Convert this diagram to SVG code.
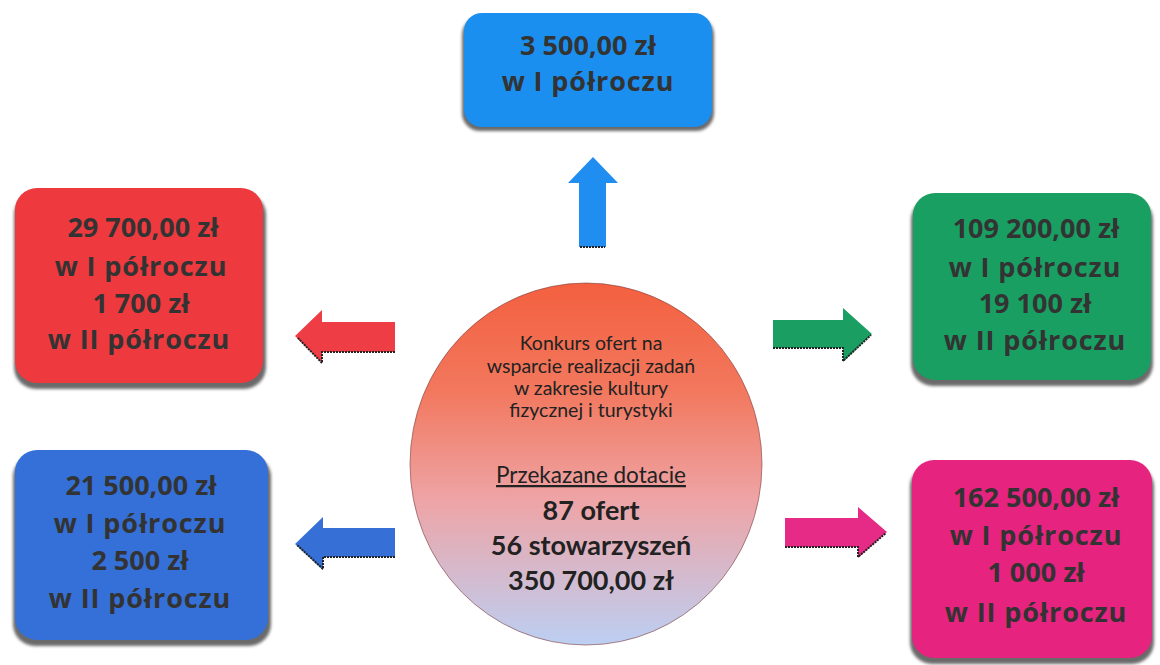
<svg xmlns="http://www.w3.org/2000/svg" width="1160" height="665" viewBox="0 0 1160 665">
<defs>
<linearGradient id="eg" x1="0" y1="0" x2="0" y2="1">
<stop offset="0" stop-color="#f3603f"/>
<stop offset="0.3" stop-color="#f2785e"/>
<stop offset="0.6" stop-color="#eea4a6"/>
<stop offset="1" stop-color="#bccff3"/>
</linearGradient>
<filter id="blur" x="-10%" y="-10%" width="120%" height="120%"><feGaussianBlur stdDeviation="1.5"/></filter>
<style>
.box-t{font-family:"Open Sans","Liberation Sans",sans-serif;font-weight:700;font-size:27px;fill:#333;text-anchor:middle}
.w{letter-spacing:0.9px}
.sh{fill:#6a6a6a;filter:url(#blur)}
.el-t{font-family:Lato,"Open Sans",sans-serif;font-size:19.5px;fill:#222;text-anchor:middle}
.el-b{font-family:Lato,"Open Sans",sans-serif;font-size:27px;font-weight:700;fill:#222;text-anchor:middle}
.edge{fill:none;stroke:#222;stroke-width:2;stroke-dasharray:2 1}
</style>
</defs>
<rect width="1160" height="665" fill="#ffffff"/>

<g id="connectors">
<g id="arrow-up">
<polygon points="579,247 579,183 568,183 593,157 618,183 606,183 606,247" fill="#1f8ef0"/>
<line class="edge" x1="580" y1="247" x2="605" y2="247"/>
</g>
<g id="arrow-red">
<polygon points="395,322 322,322 322,310 295,336 322,363 322,352 395,352" fill="#ee3d45"/>
<polyline class="edge" points="395,352 322,352 322,363 298,338"/>
</g>
<g id="arrow-green">
<polygon points="773,320 843,320 843,308 872,334 843,362 843,348 773,348" fill="#1a9e62"/>
<polyline class="edge" points="773,348 843,348 843,361 871,335"/>
</g>
<g id="arrow-blue">
<polygon points="395,528 323,528 323,517 295,544 323,570 323,557 395,557" fill="#3670d6"/>
<polyline class="edge" points="395,557 323,557 323,569 297,545"/>
</g>
<g id="arrow-pink">
<polygon points="785,518 858,518 858,507 887,532 858,558 858,547 785,547" fill="#e62b86"/>
<polyline class="edge" points="785,547 858,547 858,557 886,533"/>
</g>
</g>

<g id="node-top">
<rect class="sh" x="462" y="17" width="252" height="114" rx="18"/>
<rect x="464" y="13" width="248" height="114" rx="18" fill="#1b8ff0"/>
<text class="box-t" x="588" y="55">3 500,00 zł</text>
<text class="box-t w" x="588" y="91">w I półroczu</text>
</g>

<g id="node-red">
<rect class="sh" x="14" y="193" width="252" height="196" rx="22"/>
<rect x="15" y="188" width="248" height="195" rx="22" fill="#ee3a3e"/>
<text class="box-t" x="143" y="237">29 700,00 zł</text>
<text class="box-t w" x="141" y="276">w I półroczu</text>
<text class="box-t" x="141" y="313">1 700 zł</text>
<text class="box-t w" x="139" y="349">w II półroczu</text>
</g>

<g id="node-green">
<rect class="sh" x="911" y="198" width="242" height="188" rx="22"/>
<rect x="913" y="193" width="238" height="187" rx="22" fill="#1a9f63"/>
<text class="box-t" x="1036" y="238">109 200,00 zł</text>
<text class="box-t w" x="1035" y="277">w I półroczu</text>
<text class="box-t" x="1035" y="313">19 100 zł</text>
<text class="box-t w" x="1035" y="350">w II półroczu</text>
</g>

<g id="node-blue">
<rect class="sh" x="13" y="455" width="258" height="191" rx="22"/>
<rect x="15" y="450" width="253" height="190" rx="22" fill="#3470d8"/>
<text class="box-t" x="141" y="495">21 500,00 zł</text>
<text class="box-t w" x="140" y="533">w I półroczu</text>
<text class="box-t" x="140" y="570">2 500 zł</text>
<text class="box-t w" x="140" y="608">w II półroczu</text>
</g>

<g id="node-pink">
<rect class="sh" x="910" y="465" width="244" height="199" rx="22"/>
<rect x="912" y="460" width="240" height="198" rx="22" fill="#e6237f"/>
<text class="box-t" x="1036" y="507">162 500,00 zł</text>
<text class="box-t w" x="1036" y="545">w I półroczu</text>
<text class="box-t" x="1036" y="582">1 000 zł</text>
<text class="box-t w" x="1036" y="622">w II półroczu</text>
</g>

<g id="node-center">
<ellipse cx="586" cy="464" rx="176" ry="181" fill="url(#eg)" stroke="#7a3a3a" stroke-width="1" stroke-opacity="0.6"/>
<text class="el-t" x="591" y="350">Konkurs ofert na</text>
<text class="el-t" x="591" y="373">wsparcie realizacji zadań</text>
<text class="el-t" x="591" y="395">w zakresie kultury</text>
<text class="el-t" x="591" y="417">fizycznej i turystyki</text>
<text class="el-t" x="591" y="483" style="font-size:22.5px;text-decoration:underline">Przekazane dotacie</text>
<text class="el-b" x="591" y="520">87 ofert</text>
<text class="el-b" x="591" y="555">56 stowarzyszeń</text>
<text class="el-b" x="591" y="590">350 700,00 zł</text>
</g>
</svg>
